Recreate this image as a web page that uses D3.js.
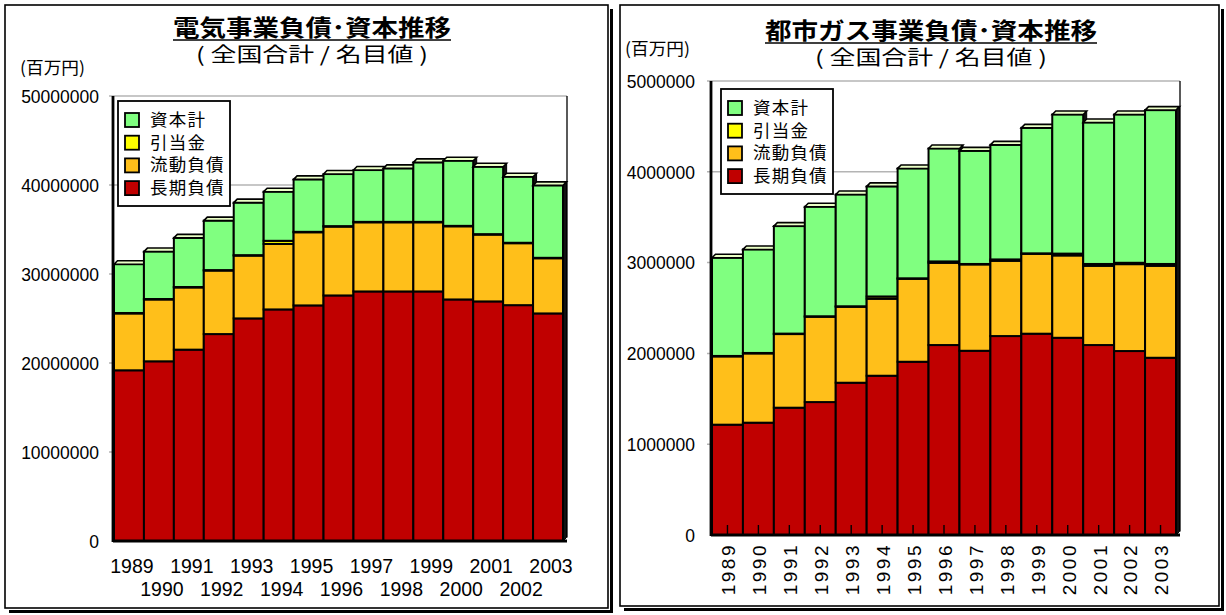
<!DOCTYPE html>
<html><head><meta charset="utf-8">
<script src="https://cdn.jsdelivr.net/npm/d3@7"></script>
<style>
html,body{margin:0;padding:0;background:#fff;}
svg{display:block;}
text{font-family:"Liberation Sans",Arial,"Noto Sans CJK JP",sans-serif;fill:#000;}
.jp{font-family:"Noto Sans CJK JP","Liberation Sans",sans-serif;}
</style></head>
<body>
<svg id="c" width="1226" height="615"></svg>
<script>
// ---------------- data ----------------
const years = ["1989","1990","1991","1992","1993","1994","1995","1996","1997","1998","1999","2000","2001","2002","2003"];
const seriesNames = ["長期負債","流動負債","引当金","資本計"]; // bottom -> top
const seriesColors = ["#c00000","#ffbf1a","#ffff00","#80ff80"];

// 電気事業 (百万円)
const elecLong    = [19180000,20190000,21500000,23250000,25010000,26020000,26470000,27590000,28040000,28040000,28040000,27140000,26920000,26500000,25570000];
const elecCurrent = [6390000,6950000,6990000,7140000,7060000,7360000,8220000,7740000,7770000,7770000,7770000,8220000,7510000,6960000,6200000];
const elecReserve = [50000,50000,50000,50000,50000,350000,50000,50000,50000,50000,50000,50000,50000,50000,50000];
const elecCapital = [5480000,5330000,5520000,5560000,5900000,5520000,5890000,5850000,5820000,6010000,6680000,7320000,7570000,7420000,8140000];
const elecTicks   = [0,10000000,20000000,30000000,40000000,50000000];

// 都市ガス事業 (百万円)
const gasLong    = [1215000,1237000,1402000,1464000,1677000,1754000,1908000,2092000,2029000,2191000,2217000,2172000,2092000,2026000,1952000];
const gasCurrent = [752000,763000,811000,940000,837000,848000,914000,906000,951000,829000,880000,907000,873000,957000,1013000];
const gasReserve = [5000,5000,5000,5000,5000,25000,5000,15000,5000,15000,5000,20000,20000,15000,20000];
const gasCapital = [1081000,1140000,1184000,1206000,1231000,1212000,1210000,1244000,1246000,1262000,1382000,1532000,1558000,1633000,1694000];
const gasTicks   = [0,1000000,2000000,3000000,4000000,5000000];

const titles = ["電気事業負債･資本推移","都市ガス事業負債･資本推移"];
const subtitle = "( 全国合計 / 名目値 )";
const unitLabel = "(百万円)";

// ---------------- drawing ----------------
const svg = d3.select("#c");

function panelFrame(px,py,pw,ph){
  svg.append("rect").attr("x",px).attr("y",py).attr("width",pw).attr("height",ph)
     .attr("fill","none").attr("stroke","#000").attr("stroke-width",1.6);
  svg.append("path").attr("d","M"+(px+4)+","+(py+ph+3.5)+"H"+(px+pw+3.5)+"V"+(py+4))
     .attr("fill","none").attr("stroke","#000").attr("stroke-width",3);
}

function drawChart(cfg){
  const g = svg.append("g");
  const rows = years.map(function(label, idx){
    const o = {year: label};
    cfg.series.forEach(function(arr,k){ o[seriesNames[k]] = arr[idx]; });
    return o;
  });
  const stacked = d3.stack().keys(seriesNames)(rows);
  const ys = d3.scaleLinear().domain([0,cfg.max]).range([cfg.y0,cfg.yTop]);
  const xs = d3.scaleBand().domain(years).range([cfg.x0+1,cfg.x1-4]).padding(0);
  const dep = 3.5;

  // gridlines
  g.append("g").selectAll("line").data(cfg.ticks.filter(function(t){return t>0;})).join("line")
    .attr("x1",cfg.x0-4).attr("x2",cfg.x1).attr("y1",function(t){return ys(t);}).attr("y2",function(t){return ys(t);})
    .attr("stroke","#b4b4b4").attr("stroke-width",1.5);
  g.append("line").attr("x1",cfg.x1).attr("x2",cfg.x1).attr("y1",ys(cfg.max)).attr("y2",cfg.y0-dep)
    .attr("stroke","#000").attr("stroke-width",1.3);

  // bars
  const topS = stacked[stacked.length-1];
  years.forEach(function(label, idx){
    const bx = xs(label), bw = xs.bandwidth();
    const yt = ys(topS[idx][1]), yb = ys(0);
    g.append("path").attr("d","M"+(bx+bw)+","+yt+"L"+(bx+bw+dep)+","+(yt-dep)+"V"+(yb-dep)+"L"+(bx+bw)+","+yb+"Z")
      .attr("fill","#111").attr("stroke","#000").attr("stroke-width",1);
    stacked.forEach(function(s,k){
      g.append("rect").attr("x",bx).attr("y",ys(s[idx][1])).attr("width",bw)
        .attr("height",Math.max(0,ys(s[idx][0])-ys(s[idx][1])))
        .attr("fill",seriesColors[k]).attr("stroke","#000").attr("stroke-width",2);
    });
    g.append("path").attr("d","M"+bx+","+yt+"L"+(bx+dep)+","+(yt-dep)+"H"+(bx+bw+dep)+"L"+(bx+bw)+","+yt+"Z")
      .attr("fill","#eaffc6").attr("stroke","#000").attr("stroke-width",1.6);
  });

  // axes
  g.append("line").attr("x1",cfg.x0).attr("x2",cfg.x0).attr("y1",ys(cfg.max)).attr("y2",cfg.y0+1)
    .attr("stroke","#000").attr("stroke-width",2.8);
  g.append("line").attr("x1",cfg.x0).attr("x2",cfg.x1).attr("y1",cfg.y0).attr("y2",cfg.y0)
    .attr("stroke","#000").attr("stroke-width",2.8);

  const ya = d3.axisLeft(ys).tickValues(cfg.ticks).tickSize(0).tickPadding(0).tickFormat(d3.format("d"));
  const yg = g.append("g").attr("transform","translate("+cfg.yLabelX+",0)").call(ya);
  yg.select(".domain").remove();
  yg.selectAll("text").attr("font-size",17.5).attr("dy","0.36em")
    .attr("font-family","'Liberation Sans',Arial,sans-serif");

  // x labels
  if(cfg.rotated){
    const xa = d3.axisBottom(xs).tickSize(-10).tickSizeOuter(0).tickPadding(0);
    const xg = g.append("g").attr("transform","translate(0,"+cfg.y0+")").call(xa);
    xg.select(".domain").remove();
    xg.selectAll(".tick line").attr("stroke","#000").attr("stroke-width",1.4);
    xg.selectAll("text").attr("font-size",19).attr("letter-spacing",2.5).attr("text-anchor","end")
      .attr("transform","translate(1,8) rotate(-90)").attr("dy","0.36em").attr("x",0).attr("y",0)
      .attr("font-family","'Liberation Sans',Arial,sans-serif");
  } else {
    g.append("g").selectAll("text").data(years).join("text")
      .attr("x",function(v){ return xs(v)+xs.bandwidth()/2+3; })
      .attr("y",function(v,idx){ return cfg.y0 + (idx%2===0 ? 32 : 55); })
      .attr("text-anchor","middle").attr("font-size",19.5).text(function(v){return v;});
  }

  // legend
  const lg = g.append("g").attr("transform","translate("+cfg.legX+","+cfg.legY+")");
  lg.append("rect").attr("width",112).attr("height",105).attr("fill","#fff")
    .attr("stroke","#000").attr("stroke-width",1.8);
  const legOrder = seriesNames.slice().reverse();
  legOrder.forEach(function(nm,idx){
    const k = seriesNames.indexOf(nm);
    const ry = 19 + idx*22.7;
    lg.append("rect").attr("x",7).attr("y",ry-7).attr("width",14).attr("height",14)
      .attr("fill",seriesColors[k]).attr("stroke","#000").attr("stroke-width",1.8);
    lg.append("text").attr("class","jp").attr("x",32).attr("y",ry).attr("dy","0.34em")
      .attr("font-size",17.5).attr("letter-spacing",1.2).attr("fill","#222").text(nm);
  });

  // titles
  svg.append("text").attr("class","jp").attr("x",cfg.cx).attr("y",cfg.titleY)
    .attr("text-anchor","middle").attr("font-size",23).attr("font-weight","bold")
    .attr("textLength",cfg.titleW).attr("lengthAdjust","spacingAndGlyphs").text(cfg.title);
  svg.append("line").attr("x1",cfg.cx-cfg.titleW/2).attr("x2",cfg.cx+cfg.titleW/2)
    .attr("y1",cfg.titleY+4).attr("y2",cfg.titleY+4).attr("stroke","#000").attr("stroke-width",1.6);
  svg.append("text").attr("class","jp").attr("x",cfg.cx).attr("y",cfg.titleY+26)
    .attr("text-anchor","middle").attr("font-size",20).attr("textLength",cfg.subW)
    .attr("lengthAdjust","spacingAndGlyphs").text(subtitle);
  svg.append("text").attr("class","jp").attr("x",cfg.unitX).attr("y",cfg.unitY)
    .attr("font-size",17).attr("textLength",65).attr("lengthAdjust","spacingAndGlyphs").text(unitLabel);
}

panelFrame(5,5,603,603);
panelFrame(620,5,599,601);

drawChart({
  series:[elecLong,elecCurrent,elecReserve,elecCapital], ticks:elecTicks, max:50000000,
  x0:113, x1:567, y0:541, yTop:96, yLabelX:99, rotated:false,
  legX:118, legY:101, cx:312, titleY:36, titleW:278, subW:232, title:titles[0],
  unitX:20, unitY:74
});
drawChart({
  series:[gasLong,gasCurrent,gasReserve,gasCapital], ticks:gasTicks, max:5000000,
  x0:711, x1:1180, y0:535, yTop:81, yLabelX:695, rotated:true,
  legX:721, legY:89, cx:931, titleY:39, titleW:332, subW:232, title:titles[1],
  unitX:625, unitY:55
});
</script>
</body></html>
